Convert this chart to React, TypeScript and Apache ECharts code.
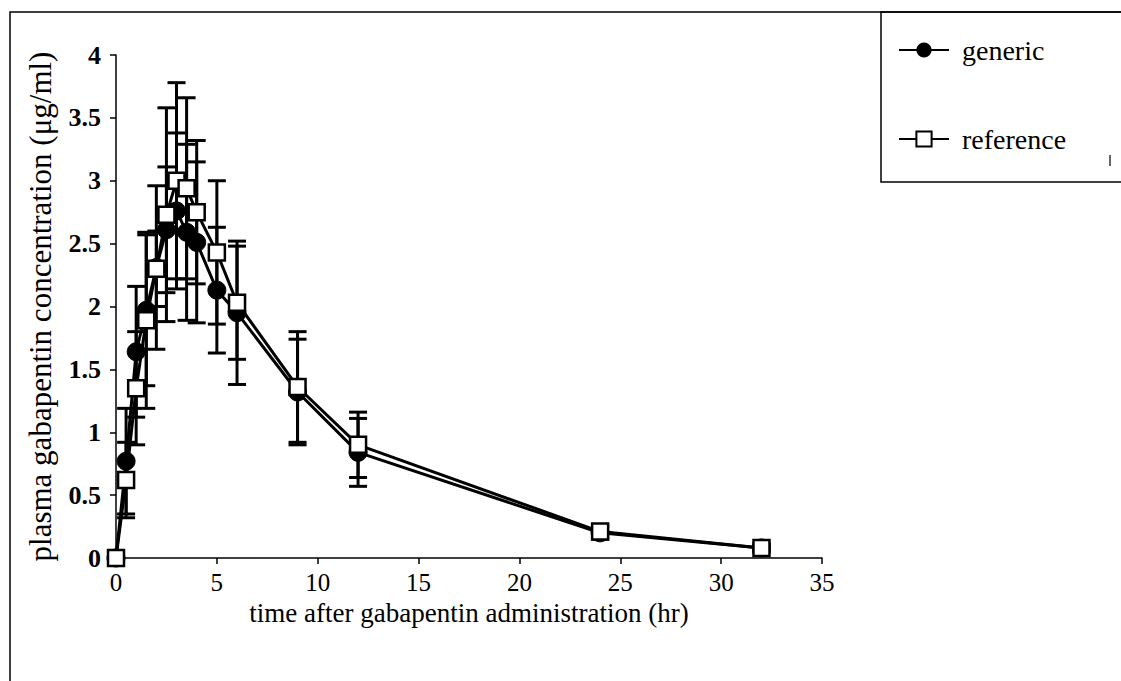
import React, { useEffect, useRef } from "react";
import * as echarts from "echarts";

const times = [0, 0.5, 1, 1.5, 2, 2.5, 3, 3.5, 4, 5, 6, 9, 12, 24, 32];
const genericMean = [0, 0.77, 1.64, 1.97, 2.31, 2.61, 2.76, 2.59, 2.51, 2.13, 1.95, 1.32, 0.84, 0.2, 0.08];
const genericSd = [0, 0.42, 0.52, 0.6, 0.65, 0.5, 0.62, 0.7, 0.64, 0.5, 0.57, 0.42, 0.27, 0.05, 0.03];
const referenceMean = [0, 0.62, 1.35, 1.89, 2.3, 2.73, 3.0, 2.94, 2.75, 2.43, 2.03, 1.36, 0.9, 0.21, 0.08];
const referenceSd = [0, 0.3, 0.45, 0.7, 0.3, 0.85, 0.78, 0.72, 0.57, 0.57, 0.45, 0.44, 0.26, 0.05, 0.03];
const seriesNames = ["generic", "reference"];
const xTitle = "time after gabapentin administration (hr)";
const yTitle = "plasma gabapentin concentration (\u03bcg/ml)";

const FONT = "Liberation Serif";

function errorSeries(mean: number[], sd: number[]) {
  return {
    type: "custom",
    silent: true,
    z: 2,
    encode: { x: 0, y: [1, 2] },
    data: times.map((t, i) => [t, mean[i] - sd[i], mean[i] + sd[i]]),
    renderItem: (params: any, api: any) => {
      const x = api.value(0);
      const lo = api.coord([x, api.value(1)]);
      const hi = api.coord([x, api.value(2)]);
      const cap = 9;
      const st = { stroke: "#000", lineWidth: 3 };
      return {
        type: "group",
        children: [
          { type: "line", shape: { x1: lo[0], y1: lo[1], x2: hi[0], y2: hi[1] }, style: st },
          { type: "line", shape: { x1: lo[0] - cap, y1: lo[1], x2: lo[0] + cap, y2: lo[1] }, style: st },
          { type: "line", shape: { x1: hi[0] - cap, y1: hi[1], x2: hi[0] + cap, y2: hi[1] }, style: st },
        ],
      };
    },
  };
}

export default function App() {
  const ref = useRef<HTMLDivElement>(null);
  useEffect(() => {
    const chart = echarts.init(ref.current!, null, { renderer: "svg" });
    chart.setOption({
      animation: false,
      backgroundColor: "#fff",
      textStyle: { fontFamily: FONT, color: "#000" },
      grid: { left: 116, right: 299, top: 55, bottom: 123 },
      legend: {
        orient: "vertical",
        left: 893,
        top: 31,
        itemGap: 61,
        itemWidth: 50,
        itemHeight: 19,
        data: seriesNames,
        textStyle: { fontFamily: FONT, fontSize: 28, color: "#000", padding: [0, 0, 0, 8] },
      },
      xAxis: {
        type: "value",
        min: 0,
        max: 35,
        interval: 5,
        name: xTitle,
        nameLocation: "middle",
        nameGap: 33,
        nameTextStyle: { fontFamily: FONT, fontSize: 27, color: "#000" },
        axisLine: { lineStyle: { color: "#000", width: 1.5 } },
        axisTick: { length: 6, lineStyle: { color: "#000", width: 1.5 } },
        axisLabel: { fontFamily: FONT, fontSize: 25, color: "#000", margin: 12 },
        splitLine: { show: false },
      },
      yAxis: {
        type: "value",
        min: 0,
        max: 4,
        interval: 0.5,
        name: yTitle,
        nameLocation: "middle",
        nameGap: 60,
        nameTextStyle: { fontFamily: FONT, fontSize: 31, color: "#000" },
        axisLine: { show: true, lineStyle: { color: "#000", width: 1.5 } },
        axisTick: { show: true, length: 6, lineStyle: { color: "#000", width: 1.5 } },
        axisLabel: { fontFamily: FONT, fontSize: 26, fontWeight: "bold", color: "#000", margin: 15 },
        splitLine: { show: false },
      },
      graphic: [
        {
          type: "polyline",
          shape: { points: [[10, 681], [10, 12], [1121, 12]] },
          style: { stroke: "#000", lineWidth: 1.5, fill: "none" },
          silent: true,
        },
        {
          type: "rect",
          shape: { x: 881, y: 12, width: 260, height: 170 },
          style: { stroke: "#000", lineWidth: 1.5, fill: "none" },
          silent: true,
        },
        {
          type: "line",
          shape: { x1: 1110, y1: 155, x2: 1110, y2: 166 },
          style: { stroke: "#000", lineWidth: 1.2 },
          silent: true,
        },
      ],
      series: [
        errorSeries(genericMean, genericSd),
        errorSeries(referenceMean, referenceSd),
        {
          name: seriesNames[0],
          type: "line",
          z: 3,
          data: times.map((t, i) => [t, genericMean[i]]),
          symbol: "circle",
          symbolSize: 18,
          lineStyle: { color: "#000", width: 3 },
          itemStyle: { color: "#000", borderColor: "#000" },
        },
        {
          name: seriesNames[1],
          type: "line",
          z: 4,
          data: times.map((t, i) => [t, referenceMean[i]]),
          symbol: "rect",
          symbolSize: 16,
          lineStyle: { color: "#000", width: 3 },
          itemStyle: { color: "#fff", borderColor: "#000", borderWidth: 2.5 },
        },
      ],
    });
    return () => chart.dispose();
  }, []);
  return (
    <div
      ref={ref}
      style={{ position: "absolute", left: 0, top: 0, width: 1121, height: 681, background: "#fff" }}
    />
  );
}
